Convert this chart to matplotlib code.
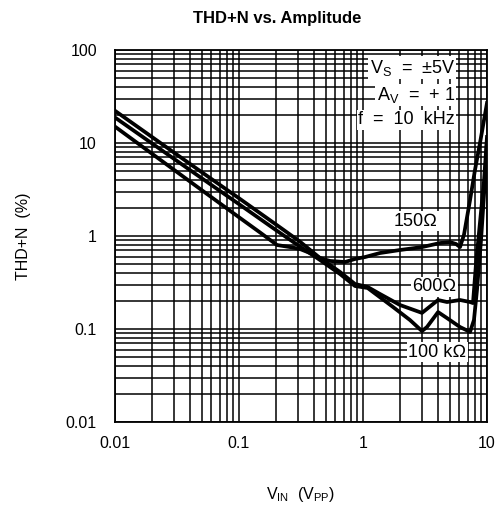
import matplotlib
matplotlib.use("Agg")
import matplotlib.pyplot as plt
from matplotlib.ticker import FixedLocator, FixedFormatter, LogLocator, NullFormatter

plt.rcParams['font.family'] = ['Liberation Sans', 'DejaVu Sans']
plt.rcParams['mathtext.default'] = 'regular'

# ---- data ----
vin_150 = [0.01, 0.0485, 0.102, 0.148, 0.2025, 0.258, 0.31, 0.374, 0.45, 0.542,
           0.716, 0.861, 1.04, 1.37, 1.99, 2.99, 4.18, 5.03, 5.63, 6.06, 6.52,
           7.3, 8.0, 8.78, 10.0]
thd_150 = [15.0, 3.21, 1.56, 1.09, 0.80, 0.76, 0.725, 0.656, 0.58, 0.539,
           0.525, 0.566, 0.594, 0.656, 0.707, 0.76, 0.84, 0.86, 0.82, 0.76, 1.03,
           2.44, 5.13, 10.0, 26.9]

vin_600 = [0.01, 0.0485, 0.102, 0.214, 0.31, 0.45, 0.653, 0.861, 1.09, 1.37,
           1.99, 2.99, 4.03, 4.76, 6.06, 7.3, 7.71, 8.15, 8.78, 9.46, 10.0]
thd_600 = [22.2, 5.0, 2.5, 1.24, 0.87, 0.58, 0.41, 0.305, 0.283, 0.238,
           0.181, 0.149, 0.205, 0.195, 0.205, 0.195, 0.19, 0.50, 1.40, 3.9, 11.6]

vin_100k = [0.01, 0.0485, 0.102, 0.214, 0.31, 0.45, 0.653, 0.861, 1.09, 1.75,
            2.39, 2.99, 3.28, 4.03, 4.76, 6.06, 7.3, 7.85, 8.30, 8.95, 9.63, 10.0]
thd_100k = [18.8, 4.3, 2.16, 1.08, 0.77, 0.552, 0.39, 0.29, 0.276, 0.172,
            0.125, 0.095, 0.105, 0.152, 0.131, 0.105, 0.093, 0.125, 0.262, 0.906, 4.0, 10.8]

x_ticks = [0.01, 0.1, 1, 10]
x_ticklabels = ['0.01', '0.1', '1', '10']
y_ticks = [0.01, 0.1, 1, 10, 100]
y_ticklabels = ['0.01', '0.1', '1', '10', '100']

W, H = 501, 514
fig = plt.figure(figsize=(W / 100, H / 100), dpi=100)
L, R, T, B = 115, 487, 50, 422
ax = fig.add_axes([L / W, 1 - B / H, (R - L) / W, (B - T) / H])

ax.set_xscale('log')
ax.set_yscale('log')
ax.set_xlim(0.01, 10)
ax.set_ylim(0.01, 100)

ax.xaxis.set_major_locator(FixedLocator(x_ticks))
ax.xaxis.set_major_formatter(FixedFormatter(x_ticklabels))
ax.yaxis.set_major_locator(FixedLocator(y_ticks))
ax.yaxis.set_major_formatter(FixedFormatter(y_ticklabels))
ax.xaxis.set_minor_locator(LogLocator(base=10, subs=range(2, 10)))
ax.yaxis.set_minor_locator(LogLocator(base=10, subs=range(2, 10)))
ax.xaxis.set_minor_formatter(NullFormatter())
ax.yaxis.set_minor_formatter(NullFormatter())

ax.grid(which='both', color='black', lw=1.1)
ax.set_axisbelow(True)
ax.tick_params(which='both', length=0, labelsize=11.5)
ax.tick_params(axis='y', pad=13)
ax.tick_params(axis='x', pad=10)
for s in ax.spines.values():
    s.set_linewidth(1.3)
    s.set_color('black')

lw = 2.7
ax.plot(vin_150, thd_150, color='black', lw=lw, solid_joinstyle='round', zorder=3)
ax.plot(vin_600, thd_600, color='black', lw=lw, solid_joinstyle='round', zorder=3)
ax.plot(vin_100k, thd_100k, color='black', lw=lw, solid_joinstyle='round', zorder=3)

box = dict(facecolor='white', edgecolor='none', pad=1.0)
fs = 13
ax.text(0.914, 0.952, 'V$_S$  =  \u00b15V', transform=ax.transAxes, ha='right', va='center',
        fontsize=fs, bbox=box, zorder=4)
ax.text(0.914, 0.879, 'A$_V$  =  + 1', transform=ax.transAxes, ha='right', va='center',
        fontsize=fs, bbox=box, zorder=4)
ax.text(0.914, 0.812, 'f  =  10  kHz', transform=ax.transAxes, ha='right', va='center',
        fontsize=fs, bbox=box, zorder=4)

ax.text(0.809, 0.540, '150\u2126', transform=ax.transAxes, ha='center', va='center',
        fontsize=fs, bbox=box, zorder=4)
ax.text(0.858, 0.363, '600\u2126', transform=ax.transAxes, ha='center', va='center',
        fontsize=fs, bbox=box, zorder=4)
ax.text(0.866, 0.188, '100 k\u2126', transform=ax.transAxes, ha='center', va='center',
        fontsize=fs, bbox=box, zorder=4)

fig.text(277 / W, 1 - 18 / H, 'THD+N vs. Amplitude', ha='center', va='center',
         fontsize=12, fontweight='bold')
fig.text(24 / W, 1 - 236 / H, 'THD+N  (%)', rotation=90, ha='center', va='center',
         fontsize=11.5)
fig.text(301 / W, 1 - 495 / H, 'V$_{IN}$  (V$_{PP}$)', ha='center', va='center',
         fontsize=11.5)

fig.savefig('out.png', dpi=100, facecolor='white')
